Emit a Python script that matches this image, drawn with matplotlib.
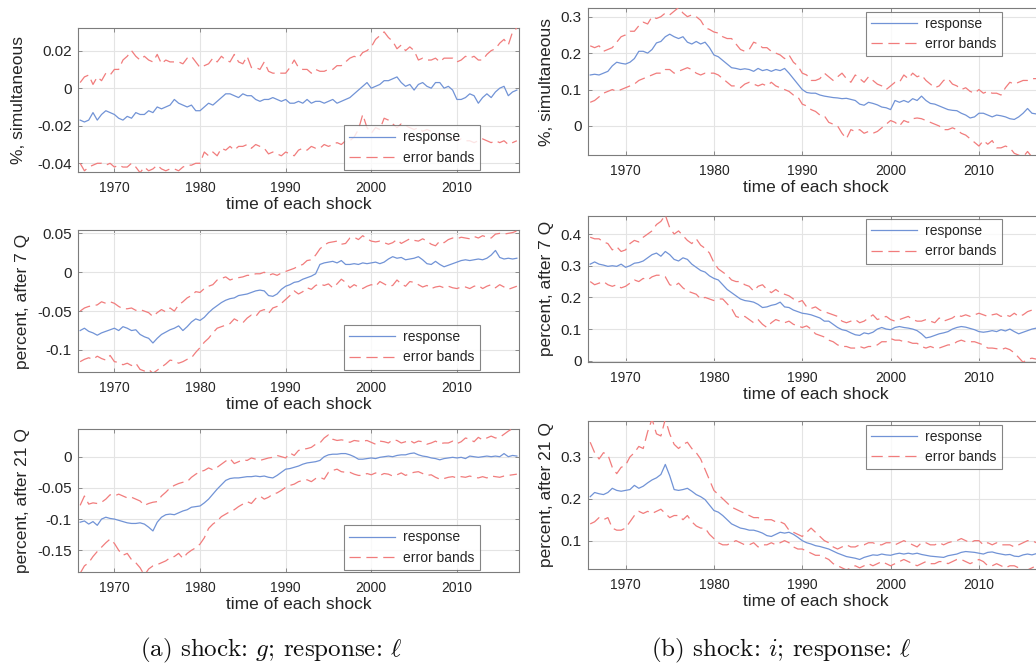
import numpy as np
import matplotlib
matplotlib.use('Agg')
import matplotlib.pyplot as plt
from matplotlib.ticker import FuncFormatter, FixedLocator

plt.rcParams['font.family'] = ['Liberation Sans', 'DejaVu Sans']
plt.rcParams['mathtext.fontset'] = 'cm'

# ---------------- data (semi-annual readings, 1966.0 ... 2017.0) ----------------
a1_resp = [-0.017, -0.018, -0.017, -0.013, -0.017, -0.014, -0.012, -0.013, -0.014, -0.016,
           -0.017, -0.015, -0.016, -0.013, -0.014, -0.014, -0.012, -0.013, -0.010, -0.011,
           -0.010, -0.009, -0.006, -0.008, -0.009, -0.010, -0.009, -0.012, -0.012, -0.010,
           -0.008, -0.009, -0.007, -0.005, -0.003, -0.003, -0.004, -0.005, -0.003, -0.004,
           -0.004, -0.006, -0.007, -0.006, -0.006, -0.005, -0.006, -0.007, -0.006, -0.008,
           -0.008, -0.007, -0.008, -0.006, -0.008, -0.007, -0.007, -0.008, -0.007, -0.006,
           -0.008, -0.007, -0.006, -0.005, -0.003, -0.001, 0.001, 0.003, 0.000, 0.001,
           0.002, 0.004, 0.004, 0.005, 0.006, 0.003, 0.001, 0.002, -0.001, 0.002,
           0.003, 0.001, 0.000, 0.003, 0.003, 0.000, 0.001, -0.001, -0.006, -0.006,
           -0.005, -0.003, -0.004, -0.008, -0.005, -0.003, -0.005, -0.002, 0.000, 0.001,
           -0.004, -0.002, -0.001]
a1_up = [0.003, 0.006, 0.007, 0.002, 0.006, 0.004, 0.008, 0.007, 0.010, 0.010,
         0.015, 0.017, 0.020, 0.017, 0.015, 0.017, 0.015, 0.014, 0.018, 0.013,
         0.015, 0.014, 0.014, 0.014, 0.013, 0.016, 0.017, 0.014, 0.011, 0.012,
         0.013, 0.016, 0.014, 0.017, 0.015, 0.014, 0.018, 0.014, 0.013, 0.017,
         0.011, 0.011, 0.010, 0.014, 0.009, 0.008, 0.008, 0.008, 0.008, 0.011,
         0.015, 0.011, 0.010, 0.010, 0.008, 0.010, 0.009, 0.009, 0.010, 0.010,
         0.012, 0.012, 0.014, 0.016, 0.017, 0.016, 0.019, 0.020, 0.022, 0.026,
         0.028, 0.030, 0.027, 0.025, 0.021, 0.023, 0.020, 0.022, 0.020, 0.015,
         0.016, 0.015, 0.015, 0.016, 0.014, 0.016, 0.016, 0.016, 0.014, 0.015,
         0.017, 0.016, 0.017, 0.015, 0.015, 0.018, 0.020, 0.021, 0.024, 0.026,
         0.023, 0.030, 0.032]
a1_lo = [-0.040, -0.044, -0.042, -0.041, -0.040, -0.040, -0.041, -0.040, -0.042, -0.041,
         -0.042, -0.042, -0.040, -0.042, -0.045, -0.042, -0.044, -0.043, -0.041, -0.043,
         -0.044, -0.043, -0.043, -0.044, -0.042, -0.041, -0.041, -0.040, -0.040, -0.034,
         -0.036, -0.034, -0.036, -0.032, -0.033, -0.031, -0.033, -0.031, -0.031, -0.030,
         -0.032, -0.030, -0.031, -0.032, -0.035, -0.034, -0.035, -0.036, -0.034, -0.035,
         -0.036, -0.033, -0.032, -0.033, -0.031, -0.032, -0.032, -0.030, -0.031, -0.030,
         -0.029, -0.030, -0.028, -0.028, -0.026, -0.022, -0.014, -0.021, -0.024, -0.021,
         -0.022, -0.016, -0.017, -0.019, -0.021, -0.019, -0.020, -0.021, -0.022, -0.021,
         -0.023, -0.022, -0.023, -0.025, -0.024, -0.025, -0.026, -0.027, -0.028, -0.027,
         -0.028, -0.028, -0.029, -0.028, -0.027, -0.028, -0.029, -0.028, -0.029, -0.028,
         -0.030, -0.029, -0.028]

b1_resp = [0.140, 0.142, 0.140, 0.145, 0.150, 0.165, 0.175, 0.172, 0.170, 0.175,
           0.185, 0.205, 0.205, 0.200, 0.210, 0.228, 0.232, 0.245, 0.252, 0.245,
           0.240, 0.245, 0.230, 0.225, 0.232, 0.225, 0.230, 0.215, 0.195, 0.190,
           0.180, 0.170, 0.160, 0.158, 0.155, 0.157, 0.155, 0.150, 0.158, 0.152,
           0.155, 0.150, 0.155, 0.152, 0.158, 0.145, 0.130, 0.115, 0.100, 0.092,
           0.090, 0.090, 0.085, 0.082, 0.080, 0.078, 0.077, 0.075, 0.076, 0.073,
           0.070, 0.060, 0.057, 0.065, 0.062, 0.058, 0.052, 0.050, 0.045, 0.070,
           0.065, 0.070, 0.065, 0.075, 0.070, 0.082, 0.070, 0.062, 0.060, 0.055,
           0.050, 0.045, 0.043, 0.042, 0.035, 0.030, 0.022, 0.025, 0.035, 0.035,
           0.030, 0.025, 0.030, 0.028, 0.025, 0.020, 0.018, 0.025, 0.035, 0.048,
           0.035, 0.033, 0.033]
b1_up = [0.220, 0.215, 0.220, 0.205, 0.210, 0.215, 0.230, 0.245, 0.250, 0.260,
         0.260, 0.275, 0.285, 0.280, 0.300, 0.295, 0.300, 0.310, 0.305, 0.315,
         0.325, 0.310, 0.300, 0.305, 0.300, 0.290, 0.270, 0.265, 0.258, 0.255,
         0.245, 0.240, 0.240, 0.225, 0.210, 0.205, 0.210, 0.230, 0.225, 0.215,
         0.215, 0.205, 0.200, 0.195, 0.185, 0.195, 0.175, 0.165, 0.145, 0.140,
         0.125, 0.125, 0.130, 0.145, 0.135, 0.125, 0.135, 0.145, 0.130, 0.120,
         0.140, 0.130, 0.120, 0.135, 0.125, 0.115, 0.110, 0.100, 0.110, 0.120,
         0.120, 0.140, 0.130, 0.145, 0.135, 0.140, 0.125, 0.115, 0.105, 0.110,
         0.125, 0.130, 0.115, 0.110, 0.100, 0.105, 0.095, 0.090, 0.100, 0.090,
         0.095, 0.090, 0.090, 0.085, 0.105, 0.120, 0.115, 0.120, 0.125, 0.125,
         0.130, 0.130, 0.130]
b1_lo = [0.065, 0.070, 0.080, 0.090, 0.095, 0.100, 0.095, 0.100, 0.105, 0.110,
         0.115, 0.125, 0.130, 0.135, 0.140, 0.145, 0.145, 0.155, 0.155, 0.145,
         0.150, 0.155, 0.160, 0.155, 0.145, 0.140, 0.145, 0.145, 0.145, 0.140,
         0.130, 0.120, 0.110, 0.110, 0.105, 0.115, 0.120, 0.115, 0.110, 0.115,
         0.110, 0.120, 0.110, 0.105, 0.100, 0.095, 0.085, 0.080, 0.060, 0.055,
         0.045, 0.040, 0.030, 0.028, 0.010, 0.005, 0.000, -0.020, -0.035, -0.010,
         -0.015, -0.010, -0.020, -0.015, -0.020, -0.015, -0.005, 0.005, 0.015, 0.010,
         0.000, 0.015, 0.010, 0.020, 0.022, 0.020, 0.015, 0.010, 0.005, 0.000,
         -0.010, -0.010, -0.005, -0.010, -0.020, -0.025, -0.035, -0.045, -0.055, -0.040,
         -0.050, -0.040, -0.060, -0.060, -0.055, -0.060, -0.075, -0.080, -0.085, -0.070,
         -0.085, -0.080, -0.090]

a2_resp = [-0.075, -0.072, -0.076, -0.078, -0.081, -0.078, -0.076, -0.074, -0.072, -0.075,
           -0.070, -0.072, -0.075, -0.074, -0.080, -0.083, -0.085, -0.091, -0.085, -0.080,
           -0.077, -0.074, -0.072, -0.069, -0.075, -0.070, -0.064, -0.060, -0.062, -0.058,
           -0.052, -0.047, -0.043, -0.039, -0.036, -0.034, -0.033, -0.030, -0.029, -0.028,
           -0.026, -0.024, -0.023, -0.024, -0.030, -0.031, -0.028, -0.022, -0.018, -0.016,
           -0.013, -0.012, -0.009, -0.007, -0.005, -0.002, 0.010, 0.012, 0.013, 0.014,
           0.012, 0.015, 0.010, 0.010, 0.011, 0.010, 0.012, 0.011, 0.012, 0.013,
           0.011, 0.013, 0.017, 0.020, 0.018, 0.019, 0.016, 0.017, 0.018, 0.020,
           0.016, 0.011, 0.010, 0.014, 0.010, 0.007, 0.009, 0.011, 0.013, 0.015,
           0.016, 0.015, 0.016, 0.017, 0.016, 0.018, 0.022, 0.028, 0.019, 0.017,
           0.018, 0.017, 0.018]
a2_up = [-0.050, -0.046, -0.044, -0.043, -0.042, -0.038, -0.040, -0.038, -0.040, -0.044,
         -0.047, -0.047, -0.046, -0.049, -0.048, -0.050, -0.052, -0.057, -0.052, -0.048,
         -0.051, -0.046, -0.050, -0.042, -0.038, -0.033, -0.030, -0.025, -0.026, -0.021,
         -0.018, -0.016, -0.010, -0.008, -0.006, -0.010, -0.008, -0.007, -0.006, -0.004,
         -0.004, -0.002, -0.002, 0.000, -0.004, -0.002, -0.004, -0.001, 0.001, 0.003,
         0.005, 0.008, 0.010, 0.015, 0.016, 0.022, 0.030, 0.035, 0.038, 0.039,
         0.040, 0.036, 0.037, 0.044, 0.045, 0.042, 0.047, 0.043, 0.040, 0.039,
         0.040, 0.038, 0.036, 0.038, 0.042, 0.037, 0.040, 0.043, 0.041, 0.040,
         0.043, 0.040, 0.036, 0.034, 0.040, 0.038, 0.042, 0.044, 0.043, 0.045,
         0.044, 0.043, 0.046, 0.044, 0.047, 0.045, 0.044, 0.049, 0.050, 0.049,
         0.050, 0.051, 0.053]
a2_lo = [-0.115, -0.112, -0.110, -0.112, -0.108, -0.111, -0.113, -0.107, -0.115, -0.116,
         -0.119, -0.117, -0.120, -0.117, -0.125, -0.127, -0.125, -0.130, -0.126, -0.122,
         -0.118, -0.113, -0.114, -0.117, -0.115, -0.112, -0.110, -0.103, -0.097, -0.090,
         -0.085, -0.078, -0.072, -0.070, -0.068, -0.066, -0.060, -0.063, -0.065, -0.059,
         -0.055, -0.057, -0.050, -0.048, -0.053, -0.046, -0.044, -0.040, -0.035, -0.030,
         -0.024, -0.028, -0.025, -0.020, -0.022, -0.017, -0.015, -0.017, -0.015, -0.020,
         -0.015, -0.009, -0.013, -0.020, -0.016, -0.019, -0.021, -0.018, -0.016, -0.018,
         -0.012, -0.015, -0.018, -0.017, -0.010, -0.015, -0.018, -0.012, -0.013, -0.016,
         -0.019, -0.017, -0.021, -0.019, -0.018, -0.020, -0.018, -0.020, -0.021, -0.019,
         -0.019, -0.021, -0.018, -0.017, -0.021, -0.018, -0.016, -0.020, -0.016, -0.019,
         -0.022, -0.020, -0.018]

b2_resp = [0.305, 0.312, 0.305, 0.302, 0.298, 0.300, 0.298, 0.305, 0.295, 0.300,
           0.308, 0.310, 0.315, 0.325, 0.335, 0.340, 0.330, 0.345, 0.335, 0.320,
           0.315, 0.325, 0.320, 0.305, 0.295, 0.285, 0.280, 0.268, 0.260, 0.255,
           0.240, 0.225, 0.215, 0.205, 0.195, 0.190, 0.188, 0.185, 0.178, 0.168,
           0.170, 0.175, 0.178, 0.185, 0.170, 0.168, 0.160, 0.155, 0.150, 0.148,
           0.145, 0.140, 0.135, 0.125, 0.125, 0.115, 0.105, 0.098, 0.095, 0.088,
           0.082, 0.080, 0.088, 0.085, 0.090, 0.100, 0.105, 0.100, 0.098, 0.105,
           0.108, 0.105, 0.103, 0.100, 0.095, 0.085, 0.072, 0.075, 0.080, 0.085,
           0.088, 0.092, 0.100, 0.105, 0.108, 0.106, 0.102, 0.098, 0.092, 0.090,
           0.092, 0.095, 0.092, 0.098, 0.094, 0.100, 0.092, 0.085, 0.090, 0.095,
           0.100, 0.103, 0.098]
b2_up = [0.390, 0.385, 0.385, 0.375, 0.370, 0.350, 0.360, 0.345, 0.350, 0.370,
         0.380, 0.375, 0.390, 0.400, 0.410, 0.430, 0.440, 0.460, 0.420, 0.400,
         0.410, 0.395, 0.380, 0.370, 0.385, 0.365, 0.355, 0.340, 0.310, 0.290,
         0.280, 0.270, 0.255, 0.250, 0.250, 0.240, 0.235, 0.220, 0.235, 0.240,
         0.225, 0.215, 0.225, 0.215, 0.210, 0.205, 0.195, 0.185, 0.190, 0.170,
         0.165, 0.170, 0.160, 0.155, 0.150, 0.145, 0.140, 0.125, 0.120, 0.125,
         0.130, 0.120, 0.125, 0.135, 0.145, 0.130, 0.135, 0.140, 0.130, 0.125,
         0.130, 0.135, 0.140, 0.130, 0.125, 0.125, 0.130, 0.125, 0.120, 0.135,
         0.125, 0.130, 0.135, 0.145, 0.140, 0.145, 0.140, 0.145, 0.150, 0.145,
         0.140, 0.145, 0.148, 0.140, 0.145, 0.140, 0.150, 0.140, 0.145, 0.155,
         0.160, 0.155, 0.160]
b2_lo = [0.250, 0.240, 0.245, 0.250, 0.240, 0.235, 0.240, 0.230, 0.235, 0.245,
         0.255, 0.250, 0.260, 0.255, 0.265, 0.270, 0.270, 0.265, 0.240, 0.235,
         0.245, 0.230, 0.220, 0.215, 0.210, 0.195, 0.200, 0.195, 0.190, 0.195,
         0.195, 0.180, 0.165, 0.140, 0.135, 0.140, 0.130, 0.120, 0.130, 0.115,
         0.105, 0.120, 0.130, 0.125, 0.120, 0.125, 0.115, 0.110, 0.105, 0.110,
         0.100, 0.085, 0.080, 0.075, 0.065, 0.060, 0.050, 0.045, 0.045, 0.040,
         0.040, 0.045, 0.040, 0.045, 0.045, 0.050, 0.060, 0.060, 0.070, 0.065,
         0.065, 0.060, 0.060, 0.055, 0.055, 0.045, 0.040, 0.045, 0.040, 0.040,
         0.045, 0.050, 0.050, 0.060, 0.065, 0.060, 0.060, 0.060, 0.055, 0.050,
         0.040, 0.040, 0.038, 0.035, 0.040, 0.035, 0.025, 0.010, -0.005, 0.005,
         0.008, 0.005, 0.010]

a3_resp = [-0.105, -0.103, -0.108, -0.104, -0.110, -0.100, -0.097, -0.099, -0.100, -0.102,
           -0.104, -0.106, -0.107, -0.107, -0.106, -0.108, -0.113, -0.119, -0.105, -0.097,
           -0.093, -0.092, -0.093, -0.090, -0.087, -0.085, -0.081, -0.080, -0.079, -0.074,
           -0.068, -0.060, -0.052, -0.045, -0.038, -0.035, -0.034, -0.034, -0.033, -0.032,
           -0.032, -0.031, -0.032, -0.031, -0.033, -0.034, -0.030, -0.025, -0.020, -0.019,
           -0.017, -0.015, -0.012, -0.010, -0.009, -0.008, -0.006, 0.000, 0.003, 0.004,
           0.004, 0.005, 0.005, 0.003, 0.000, -0.004, -0.004, -0.003, -0.002, -0.003,
           -0.001, 0.000, 0.001, 0.000, 0.002, 0.003, 0.003, 0.005, 0.006, 0.003,
           0.001, 0.000, -0.002, -0.003, -0.005, -0.003, -0.002, -0.001, -0.002, -0.001,
           -0.003, 0.001, 0.000, -0.001, 0.000, 0.001, 0.000, 0.001, 0.000, 0.005,
           0.000, 0.002, 0.001]
a3_up = [-0.078, -0.063, -0.076, -0.074, -0.075, -0.073, -0.068, -0.061, -0.063, -0.060,
         -0.063, -0.066, -0.065, -0.068, -0.071, -0.078, -0.075, -0.073, -0.072, -0.063,
         -0.057, -0.050, -0.046, -0.043, -0.041, -0.040, -0.033, -0.028, -0.024, -0.022,
         -0.018, -0.021, -0.017, -0.012, -0.007, -0.003, -0.011, -0.008, -0.005, -0.006,
         -0.002, -0.004, -0.006, -0.004, -0.002, -0.001, 0.002, 0.000, -0.002, 0.006,
         0.002, 0.010, 0.012, 0.013, 0.015, 0.020, 0.022, 0.030, 0.035, 0.028,
         0.026, 0.027, 0.026, 0.023, 0.026, 0.025, 0.025, 0.026, 0.023, 0.020,
         0.025, 0.024, 0.022, 0.027, 0.026, 0.022, 0.024, 0.026, 0.022, 0.025,
         0.024, 0.020, 0.022, 0.025, 0.021, 0.022, 0.022, 0.025, 0.021, 0.024,
         0.030, 0.028, 0.024, 0.031, 0.027, 0.030, 0.033, 0.030, 0.031, 0.036,
         0.041, 0.045, 0.046]
a3_lo = [-0.187, -0.175, -0.170, -0.160, -0.152, -0.145, -0.138, -0.132, -0.139, -0.150,
         -0.158, -0.155, -0.165, -0.170, -0.178, -0.190, -0.180, -0.175, -0.173, -0.170,
         -0.167, -0.162, -0.160, -0.155, -0.163, -0.155, -0.150, -0.146, -0.140, -0.130,
         -0.115, -0.108, -0.103, -0.096, -0.092, -0.088, -0.085, -0.080, -0.076, -0.072,
         -0.075, -0.067, -0.063, -0.068, -0.065, -0.060, -0.058, -0.054, -0.049, -0.046,
         -0.044, -0.040, -0.038, -0.037, -0.040, -0.035, -0.033, -0.036, -0.025, -0.022,
         -0.020, -0.024, -0.025, -0.025, -0.028, -0.030, -0.030, -0.027, -0.029, -0.026,
         -0.030, -0.027, -0.028, -0.031, -0.029, -0.026, -0.030, -0.027, -0.025, -0.024,
         -0.027, -0.030, -0.029, -0.033, -0.036, -0.035, -0.033, -0.032, -0.034, -0.032,
         -0.033, -0.031, -0.033, -0.034, -0.032, -0.034, -0.031, -0.032, -0.033, -0.031,
         -0.030, -0.029, -0.028]

b3_resp = [0.205, 0.215, 0.212, 0.210, 0.215, 0.225, 0.220, 0.218, 0.220, 0.222,
           0.232, 0.225, 0.230, 0.238, 0.245, 0.250, 0.258, 0.282, 0.255, 0.222,
           0.220, 0.222, 0.225, 0.218, 0.210, 0.205, 0.198, 0.185, 0.172, 0.168,
           0.160, 0.150, 0.140, 0.135, 0.130, 0.128, 0.125, 0.125, 0.122, 0.118,
           0.112, 0.110, 0.115, 0.120, 0.118, 0.120, 0.115, 0.108, 0.100, 0.095,
           0.092, 0.088, 0.086, 0.083, 0.080, 0.075, 0.070, 0.066, 0.062, 0.060,
           0.058, 0.055, 0.060, 0.063, 0.066, 0.065, 0.068, 0.066, 0.065, 0.068,
           0.070, 0.068, 0.070, 0.068, 0.070, 0.067, 0.065, 0.063, 0.062, 0.061,
           0.060, 0.064, 0.066, 0.068, 0.072, 0.074, 0.073, 0.072, 0.070, 0.068,
           0.072, 0.073, 0.070, 0.068, 0.066, 0.067, 0.063, 0.062, 0.066, 0.068,
           0.066, 0.069, 0.068]
b3_up = [0.335, 0.310, 0.295, 0.310, 0.305, 0.275, 0.260, 0.275, 0.280, 0.300,
         0.310, 0.325, 0.320, 0.360, 0.390, 0.355, 0.350, 0.390, 0.355, 0.330,
         0.320, 0.330, 0.335, 0.320, 0.310, 0.295, 0.270, 0.245, 0.220, 0.210,
         0.200, 0.190, 0.180, 0.175, 0.170, 0.165, 0.160, 0.155, 0.155, 0.150,
         0.150, 0.150, 0.145, 0.145, 0.140, 0.125, 0.120, 0.115, 0.110, 0.120,
         0.130, 0.120, 0.110, 0.100, 0.095, 0.085, 0.080, 0.085, 0.090, 0.085,
         0.085, 0.090, 0.090, 0.095, 0.095, 0.090, 0.090, 0.095, 0.095, 0.090,
         0.095, 0.100, 0.095, 0.090, 0.085, 0.095, 0.095, 0.090, 0.090, 0.095,
         0.090, 0.095, 0.098, 0.100, 0.105, 0.100, 0.095, 0.100, 0.100, 0.090,
         0.095, 0.090, 0.095, 0.090, 0.090, 0.090, 0.085, 0.090, 0.095, 0.100,
         0.100, 0.095, 0.100]
b3_lo = [0.140, 0.145, 0.155, 0.150, 0.155, 0.130, 0.125, 0.125, 0.130, 0.145,
         0.160, 0.170, 0.165, 0.170, 0.165, 0.170, 0.175, 0.165, 0.155, 0.160,
         0.160, 0.150, 0.160, 0.145, 0.135, 0.130, 0.130, 0.115, 0.105, 0.095,
         0.090, 0.090, 0.095, 0.100, 0.095, 0.090, 0.090, 0.095, 0.085, 0.090,
         0.090, 0.095, 0.090, 0.095, 0.100, 0.095, 0.085, 0.080, 0.080, 0.075,
         0.070, 0.065, 0.065, 0.060, 0.055, 0.045, 0.040, 0.035, 0.030, 0.035,
         0.040, 0.035, 0.040, 0.045, 0.040, 0.045, 0.050, 0.045, 0.040, 0.045,
         0.050, 0.055, 0.050, 0.045, 0.040, 0.045, 0.050, 0.045, 0.045, 0.050,
         0.050, 0.045, 0.050, 0.055, 0.055, 0.050, 0.045, 0.050, 0.055, 0.050,
         0.040, 0.040, 0.045, 0.040, 0.035, 0.040, 0.040, 0.035, 0.030, 0.030,
         0.035, 0.040, 0.045]

year_start, year_end = 1966.0, 2017.0
xticks = [1970, 1980, 1990, 2000, 2010]

# ---------------- styling ----------------
W, H = 1036, 665
fig = plt.figure(figsize=(W / 100, H / 100), dpi=100)

C_RESP = '#7193d6'
C_BAND = '#f17c7c'
C_SPINE = '#7c7c7c'
C_TEXT = '#262626'
C_GRID = '#e4e4e4'

fmt = FuncFormatter(lambda v, p: ('%g' % round(v, 6)))


def make_axes(box):
    x0, y0, x1, y1 = box
    return fig.add_axes([x0 / W, 1 - y1 / H, (x1 - x0) / W, (y1 - y0) / H])


panels = [
    dict(box=(78, 28.3, 519, 172.3), ylim=(-0.0448, 0.0319), yt=[-0.04, -0.02, 0, 0.02],
         ylab='%, simultaneous', data=(a1_resp, a1_up, a1_lo), right=False, lp=8),
    dict(box=(78, 230, 519, 372), ylim=(-0.1283, 0.0543), yt=[-0.1, -0.05, 0, 0.05],
         ylab='percent, after 7 Q', data=(a2_resp, a2_up, a2_lo), right=False, lp=5),
    dict(box=(78, 429, 519, 572.3), ylim=(-0.1853, 0.0444), yt=[-0.15, -0.1, -0.05, 0],
         ylab='percent, after 21 Q', data=(a3_resp, a3_up, a3_lo), right=False, lp=5),
    dict(box=(588, 8.3, 1043, 155), ylim=(-0.0796, 0.323), yt=[0, 0.1, 0.2, 0.3],
         ylab='%, simultaneous', data=(b1_resp, b1_up, b1_lo), right=True, lp=4.5),
    dict(box=(588, 215.7, 1043, 362), ylim=(-0.004, 0.458), yt=[0, 0.1, 0.2, 0.3, 0.4],
         ylab='percent, after 7 Q', data=(b2_resp, b2_up, b2_lo), right=True, lp=4.5),
    dict(box=(588, 421.3, 1043, 568.7), ylim=(0.033, 0.385), yt=[0.1, 0.2, 0.3],
         ylab='percent, after 21 Q', data=(b3_resp, b3_up, b3_lo), right=True, lp=4.5),
]

for p in panels:
    ax = make_axes(p['box'])
    resp, up, lo = p['data']
    xr = np.linspace(year_start, year_end, len(resp))
    xu = np.linspace(year_start, year_end, len(up))
    xl = np.linspace(year_start, year_end, len(lo))
    ax.plot(xr, resp, color=C_RESP, lw=0.9, label='response', zorder=3)
    ax.plot(xu, up, color=C_BAND, lw=0.9, dashes=(9, 4.5), label='error bands', zorder=3)
    ax.plot(xl, lo, color=C_BAND, lw=0.9, dashes=(9, 4.5), zorder=3)
    ax.set_xlim(1965.75, 2017.25)
    ax.set_ylim(*p['ylim'])
    ax.xaxis.set_major_locator(FixedLocator(xticks))
    ax.yaxis.set_major_locator(FixedLocator(p['yt']))
    ax.yaxis.set_major_formatter(fmt)
    ax.grid(True, color=C_GRID, lw=0.8, zorder=0)
    ax.set_axisbelow(True)
    for s in ax.spines.values():
        s.set_color(C_SPINE)
        s.set_linewidth(0.8)
    ax.tick_params(axis='both', direction='in', length=3, width=0.6, color=C_SPINE,
                   labelcolor=C_TEXT, top=True, right=True)
    ax.tick_params(axis='x', pad=6.5, labelsize=10)
    ax.tick_params(axis='y', pad=4.5, labelsize=11)
    ax.set_xlabel('time of each shock', fontsize=12.5, color=C_TEXT, labelpad=1.5)
    ax.set_ylabel(p['ylab'], fontsize=12.5, color=C_TEXT, labelpad=p['lp'])
    common = dict(borderaxespad=0, fontsize=10, handlelength=3.3, handletextpad=0.6,
                  borderpad=0.38, labelspacing=0.45, fancybox=False)
    if p['right']:
        leg = ax.legend(loc='upper right', bbox_to_anchor=(0.91, 0.978), **common)
    else:
        leg = ax.legend(loc='lower right', bbox_to_anchor=(0.9116, 0.016), **common)
    for t in leg.get_texts():
        t.set_color(C_TEXT)
    leg.get_frame().set_edgecolor('#666666')
    leg.get_frame().set_linewidth(0.8)
    leg.set_zorder(5)

fig.text(271 / W, 1 - 650 / H, r'(a) shock: $g$; response: $\ell$', fontname='cmr10',
         fontsize=18, ha='center', va='center', color='#111111')
fig.text(781 / W, 1 - 650 / H, r'(b) shock: $i$; response: $\ell$', fontname='cmr10',
         fontsize=18, ha='center', va='center', color='#111111')

fig.savefig('out.png', dpi=100)
